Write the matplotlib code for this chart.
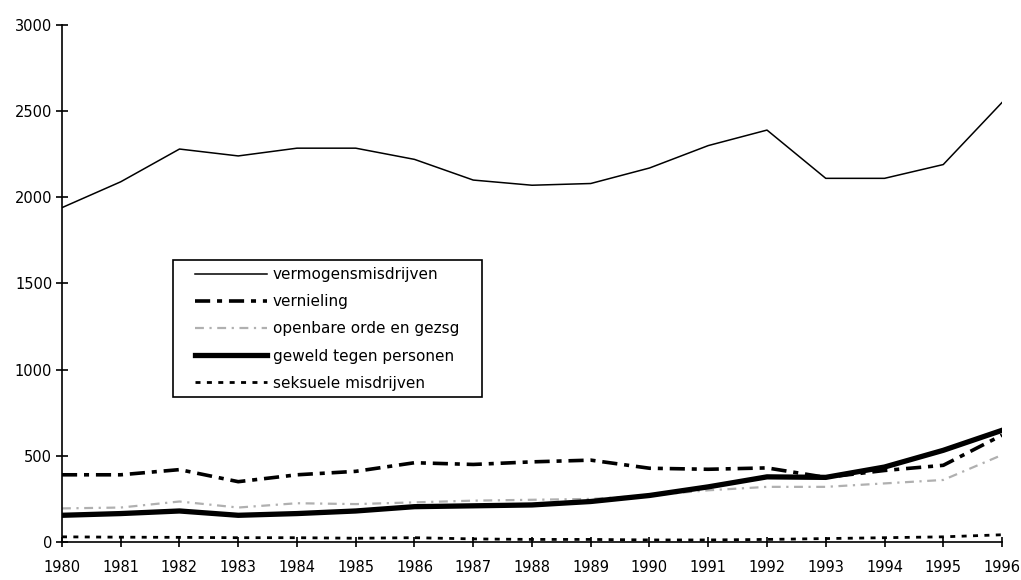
import numpy as np
import matplotlib.pyplot as plt
from matplotlib.patches import Rectangle

plt.rcParams['font.family'] = ['DejaVu Sans']

jaren = list(range(1980, 1997))
vermogen = [1940, 2090, 2280, 2240, 2285, 2285, 2220, 2100, 2070, 2080, 2170, 2300, 2390, 2110, 2110, 2190, 2550]
vernieling = [390, 390, 420, 350, 390, 410, 460, 450, 465, 475, 428, 422, 430, 375, 415, 445, 620]
openbare_orde = [195, 200, 235, 200, 225, 220, 230, 240, 245, 250, 270, 300, 320, 320, 340, 360, 505]
geweld = [155, 165, 180, 155, 165, 180, 205, 210, 215, 235, 270, 320, 378, 375, 435, 532, 648]
seksueel = [30, 28, 27, 25, 25, 22, 25, 18, 15, 15, 12, 12, 15, 20, 25, 30, 42]

labels = ['vermogensmisdrijven', 'vernieling', 'openbare orde en gezsg',
          'geweld tegen personen', 'seksuele misdrijven']

fig = plt.figure(figsize=(10.21, 5.8), dpi=100)
ax = fig.add_axes([0.0607, 0.0655, 0.9207, 0.8915])

ax.plot(jaren, vermogen, color='black', lw=1.1, label=labels[0])
ax.plot(jaren, vernieling, color='black', lw=2.6, dashes=(4.2, 1.9, 1.4, 1.9), label=labels[1])
ax.plot(jaren, openbare_orde, color='#b0b0b0', lw=1.6, dashes=(4, 2.5, 1, 2.5), label=labels[2])
ax.plot(jaren, geweld, color='black', lw=3.8, label=labels[3])
ax.plot(jaren, seksueel, color='black', lw=2.0, dashes=(1.8, 2.3), label=labels[4])

ax.set_xlim(1980, 1996)
ax.set_ylim(0, 3000)
ax.set_xticks(jaren)
ax.set_yticks(range(0, 3001, 500))
for s in ['top', 'right']:
    ax.spines[s].set_visible(False)
ax.spines['left'].set_linewidth(1.2)
ax.spines['bottom'].set_linewidth(1.2)
ax.tick_params(axis='y', direction='inout', length=8, width=1.2, labelsize=10.5, pad=3)
ax.tick_params(axis='x', direction='inout', length=7, width=1.2, labelsize=10.5, pad=9.5)

# legendakader apart getekend, legenda zelf zonder rand
ax.add_patch(Rectangle((0.118, 0.280), 0.329, 0.265, transform=ax.transAxes,
                       facecolor='white', edgecolor='black', lw=1.2, zorder=4))
leg = ax.legend(loc='upper left', bbox_to_anchor=(0.1415, 0.532),
                fontsize=11, handlelength=4.7, handletextpad=0.4, labelspacing=0.8,
                borderaxespad=0, borderpad=0, frameon=False)
leg.set_zorder(5)

fig.savefig('out.png', dpi=100)
